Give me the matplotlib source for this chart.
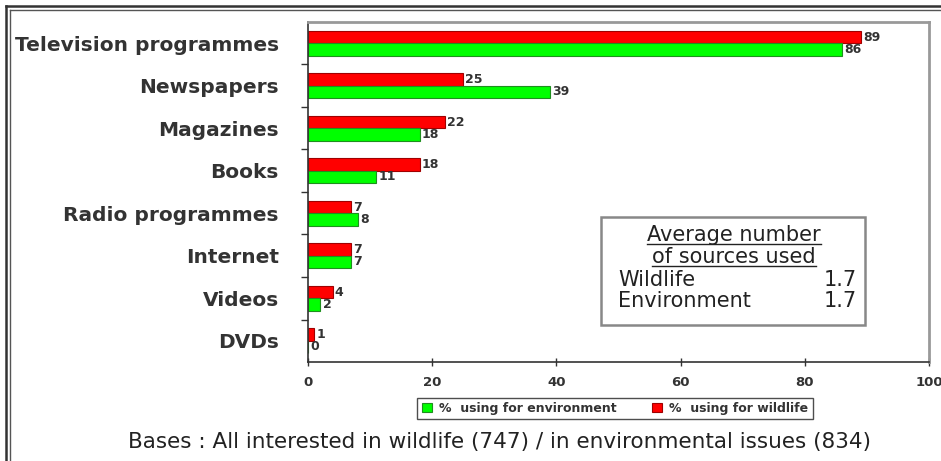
import numpy as np
import matplotlib
matplotlib.use('Agg')
import matplotlib.pyplot as plt
from matplotlib.lines import Line2D

plt.rcParams['font.family'] = ['DejaVu Sans']

# data
sources = ['Television programmes', 'Newspapers', 'Magazines', 'Books',
           'Radio programmes', 'Internet', 'Videos', 'DVDs']
wildlife = [89, 25, 22, 18, 7, 7, 4, 1]
environment = [86, 39, 18, 11, 8, 7, 2, 0]
avg_title = ['Average number', 'of sources used']
avg_labels = ['Wildlife', 'Environment']
avg_values = ['1.7', '1.7']
x_ticks = [0, 20, 40, 60, 80, 100]

RED = '#ff0000'
GREEN = '#00ff00'
TXT = '#333333'

fig = plt.figure(figsize=(9.41, 4.61), dpi=100)
ax = fig.add_axes([308 / 941, 1 - 362 / 461, 621 / 941, 340 / 461])

y = np.arange(len(sources))
h = 0.29
ax.barh(y - h / 2, wildlife, height=h, color=RED, edgecolor='#a00000',
        linewidth=0.8, label='%  using for wildlife')
ax.barh(y + h / 2, environment, height=h, color=GREEN, edgecolor='#1f8f1f',
        linewidth=0.8, label='%  using for environment')

# value labels next to each bar
for i in range(len(sources)):
    ax.annotate(str(wildlife[i]), (wildlife[i], y[i] - h / 2), xytext=(1.5, 0),
                textcoords='offset points', ha='left', va='center',
                fontsize=9, fontweight='bold', color=TXT)
    ax.annotate(str(environment[i]), (environment[i], y[i] + h / 2), xytext=(1.5, 0),
                textcoords='offset points', ha='left', va='center',
                fontsize=9, fontweight='bold', color=TXT)

ax.set_xlim(0, 100)
ax.set_ylim(len(sources) - 0.5, -0.5)
ax.set_xticks(x_ticks)
ax.set_xticklabels([str(t) for t in x_ticks], fontsize=9.5, fontweight='bold', color=TXT)
ax.tick_params(axis='x', direction='inout', length=6, width=1, color='#333333', pad=7)

ax.set_yticks(y)
ax.set_yticklabels(sources, fontsize=14.5, fontweight='bold', color=TXT)
ax.tick_params(axis='y', which='major', length=0, pad=21)
ax.set_yticks(np.arange(len(sources) - 1) + 0.5, minor=True)
ax.tick_params(axis='y', which='minor', direction='out', length=5, width=1, color='#333333')

for side in ['left', 'bottom']:
    ax.spines[side].set_color('#333333')
    ax.spines[side].set_linewidth(1.2)
for side in ['top', 'right']:
    ax.spines[side].set_color('#999999')
    ax.spines[side].set_linewidth(2)

# box with the average number of sources
box = plt.Rectangle((0.472, 0.109), 0.425, 0.317, transform=ax.transAxes,
                    facecolor='white', edgecolor='#888888', linewidth=1.8, zorder=3)
ax.add_patch(box)
title_texts = []
for k in range(len(avg_title)):
    t = ax.text(0.686, 0.374 - k * 0.065, avg_title[k], transform=ax.transAxes,
                ha='center', va='center', fontsize=15, color='#222222', zorder=4)
    title_texts.append(t)
for k in range(len(avg_labels)):
    yy = 0.242 - k * 0.062
    ax.text(0.500, yy, avg_labels[k], transform=ax.transAxes, ha='left', va='center',
            fontsize=15, color='#222222', zorder=4)
    ax.text(0.884, yy, avg_values[k], transform=ax.transAxes, ha='right', va='center',
            fontsize=15, color='#222222', zorder=4)

# legend: environment first
handles, labels = ax.get_legend_handles_labels()
leg = fig.legend(handles[::-1], labels[::-1], loc='center', ncol=2,
                 bbox_to_anchor=(615 / 941, 1 - 408.5 / 461),
                 prop={'size': 9, 'weight': 'bold'},
                 frameon=True, fancybox=False,
                 edgecolor='#222222', handlelength=0.8, handleheight=0.8,
                 handletextpad=0.6, columnspacing=2.8, borderpad=0.35)
leg.get_frame().set_linewidth(1)
for t in leg.get_texts():
    t.set_color(TXT)

fig.text(499 / 941, 1 - 442 / 461,
         'Bases : All interested in wildlife (747) / in environmental issues (834)',
         ha='center', va='center', fontsize=15.5, color='#222222')

# underline the box title
fig.canvas.draw()
renderer = fig.canvas.get_renderer()
inv = ax.transAxes.inverted()
for t in title_texts:
    bb = t.get_window_extent(renderer)
    (x0, y0), (x1, _) = inv.transform([(bb.x0, bb.y0 + 1), (bb.x1, bb.y1)])
    ax.add_line(Line2D([x0, x1], [y0, y0], transform=ax.transAxes,
                       color='#222222', linewidth=1, zorder=4))

# double frame at top and left of the picture
fig.add_artist(Line2D([6 / 941, 1], [1 - 6 / 461, 1 - 6 / 461], transform=fig.transFigure,
                      color='#333333', linewidth=1.8))
fig.add_artist(Line2D([10 / 941, 1], [1 - 10 / 461, 1 - 10 / 461], transform=fig.transFigure,
                      color='#555555', linewidth=1.0))
fig.add_artist(Line2D([6 / 941, 6 / 941], [0, 1 - 6 / 461], transform=fig.transFigure,
                      color='#333333', linewidth=1.8))
fig.add_artist(Line2D([10 / 941, 10 / 941], [0, 1 - 10 / 461], transform=fig.transFigure,
                      color='#555555', linewidth=1.0))

fig.savefig('out.png', dpi=100)
